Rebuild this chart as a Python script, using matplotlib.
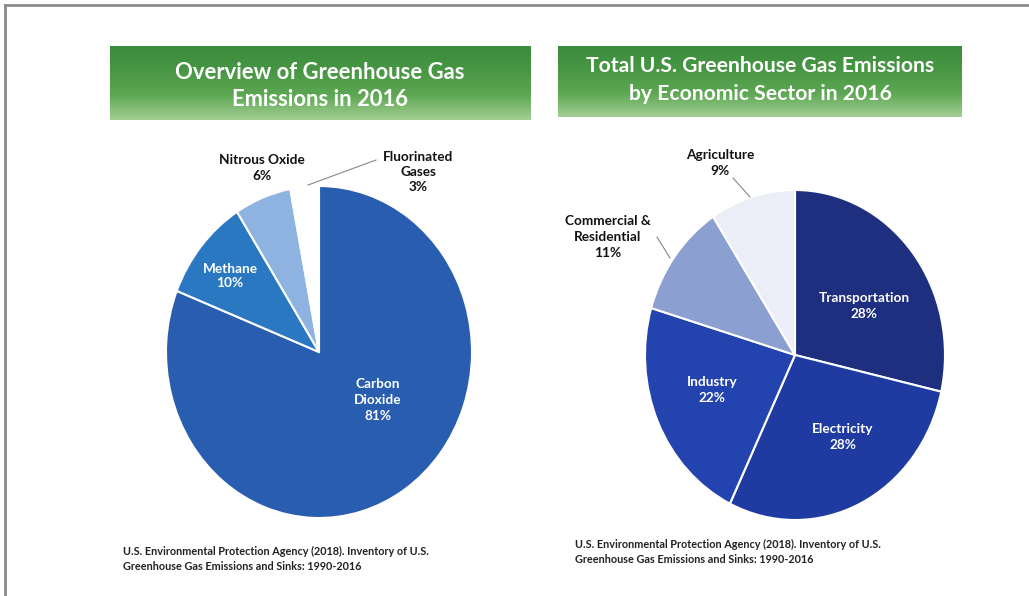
import numpy as np
import matplotlib.pyplot as plt
from matplotlib.colors import LinearSegmentedColormap
from matplotlib.lines import Line2D

W, H = 1029, 596

gas_names = ['Carbon\nDioxide', 'Methane', 'Nitrous Oxide', 'Fluorinated\nGases']
gas_share = [81, 10, 6, 3]
gas_colors = ['#285DAF', '#2B78C2', '#8FB3E0', '#FFFFFF']

sector_names = ['Transportation', 'Electricity', 'Industry',
                'Commercial &\nResidential', 'Agriculture']
sector_share = [28, 28, 22, 11, 9]
sector_colors = ['#1D2F7E', '#1F3BA1', '#2343AE', '#8C9FD1', '#ECEEF7']

titles = ['Overview of Greenhouse Gas\nEmissions in 2016',
          'Total U.S. Greenhouse Gas Emissions\nby Economic Sector in 2016']
source = ('U.S. Environmental Protection Agency (2018). Inventory of U.S.\n'
          'Greenhouse Gas Emissions and Sinks: 1990-2016')

plt.rcParams['font.family'] = ['Lato', 'DejaVu Sans']
fig = plt.figure(figsize=(W / 100, H / 100), dpi=100)
fig.patch.set_facecolor('white')


def px_axes(x0, y0, x1, y1):
    # box in pixels, y counted from the top edge
    return fig.add_axes([x0 / W, 1 - y1 / H, (x1 - x0) / W, (y1 - y0) / H])


def px_text(x, y, s, **kw):
    kw.setdefault('ha', 'center')
    kw.setdefault('va', 'center')
    kw.setdefault('fontweight', 'bold')
    return fig.text(x / W, 1 - y / H, s, **kw)


def px_line(x0, y0, x1, y1, **kw):
    fig.add_artist(Line2D([x0 / W, x1 / W], [1 - y0 / H, 1 - y1 / H],
                          transform=fig.transFigure, **kw))


# frame
px_line(5, 5, W, 5, color='#8c8c8c', lw=2)
px_line(5, 5, 5, H, color='#8c8c8c', lw=2)

# green title banners
green = LinearSegmentedColormap.from_list(
    'banner', ['#3C8B3C', '#489745', '#5DA753', '#A3CF93'])
grad = np.linspace(0, 1, 100).reshape(-1, 1)
banners = [(110, 46, 530, 120), (558, 46, 962, 117)]
title_pos = [(0.5, 0.46, 1.3, 15.8), (0.5, 0.52, 1.45, 15.2)]
for box, title, (tx, ty, ls, size) in zip(banners, titles, title_pos):
    ax = px_axes(*box)
    ax.imshow(grad, aspect='auto', cmap=green, extent=[0, 1, 0, 1])
    ax.axis('off')
    ax.text(tx, ty, title, ha='center', va='center', color='white',
            fontsize=size, fontweight='bold', linespacing=ls,
            transform=ax.transAxes)


def draw_pie(cx, cy, rx, ry, values, colors):
    ax = px_axes(cx - 1.2 * rx, cy - 1.2 * ry, cx + 1.2 * rx, cy + 1.2 * ry)
    ax.pie(values, colors=colors, startangle=90, counterclock=False,
           radius=1, wedgeprops=dict(edgecolor='white', linewidth=1.5))
    ax.set_aspect('auto')
    ax.set_xlim(-1.2, 1.2)
    ax.set_ylim(-1.2, 1.2)
    ax.axis('off')
    return ax


draw_pie(319, 352, 153, 166, gas_share, gas_colors)
draw_pie(795, 355, 150, 165, sector_share, sector_colors)

gas_lbl = ['%s\n%d%%' % (n, v) for n, v in zip(gas_names, gas_share)]
sec_lbl = ['%s\n%d%%' % (n, v) for n, v in zip(sector_names, sector_share)]

fs = 9.8
px_text(378, 400, gas_lbl[0], color='white', fontsize=fs, linespacing=1.4)
px_text(230, 276, gas_lbl[1], color='white', fontsize=fs, linespacing=1.25)
px_text(262, 168, gas_lbl[2], color='#111111', fontsize=fs, linespacing=1.3)
px_text(418, 172, gas_lbl[3], color='#111111', fontsize=fs, linespacing=1.3)
px_line(308, 185, 376, 160, color='#888888', lw=0.8)

px_text(864, 306, sec_lbl[0], color='white', fontsize=fs, linespacing=1.4)
px_text(843, 437, sec_lbl[1], color='white', fontsize=fs, linespacing=1.4)
px_text(712, 390, sec_lbl[2], color='white', fontsize=fs, linespacing=1.4)
px_text(608, 237, sec_lbl[3], color='#111111', fontsize=fs, linespacing=1.4)
px_text(720, 163, sec_lbl[4], color='#111111', fontsize=fs, linespacing=1.4)
px_line(657, 237, 670, 258, color='#888888', lw=0.8)
px_line(733, 178, 750, 197, color='#888888', lw=0.8)

# source notes
px_text(123, 559, source, ha='left', color='#222222', fontsize=7.8,
        linespacing=1.45, fontweight='bold')
px_text(575, 552, source, ha='left', color='#222222', fontsize=7.8,
        linespacing=1.45, fontweight='bold')

fig.savefig('out.png', dpi=100)
